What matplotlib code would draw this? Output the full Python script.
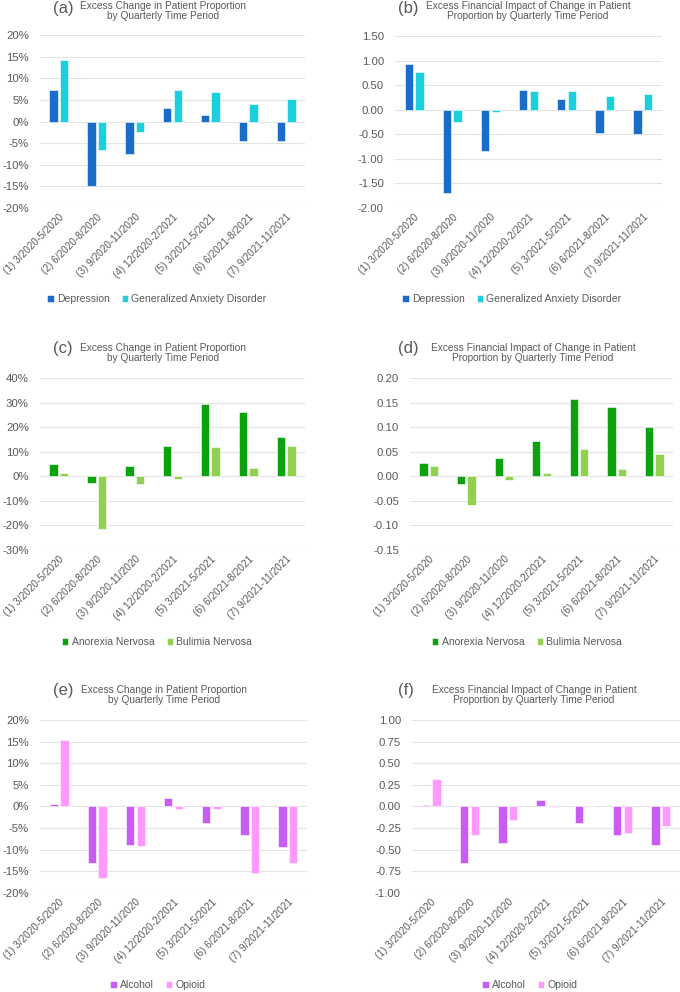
import numpy as np
import matplotlib
matplotlib.use("Agg")
import matplotlib.pyplot as plt
from matplotlib.ticker import FuncFormatter

plt.rcParams['font.family'] = ['Liberation Sans', 'DejaVu Sans']

periods = ['(1) 3/2020-5/2020', '(2) 6/2020-8/2020', '(3) 9/2020-11/2020',
           '(4) 12/2020-2/2021', '(5) 3/2021-5/2021', '(6) 6/2021-8/2021',
           '(7) 9/2021-11/2021']

# (a) excess change in patient proportion, %
dep_pct = [7.2, -15.0, -7.4, 3.2, 1.4, -4.6, -4.6]
gad_pct = [14.2, -6.7, -2.4, 7.3, 6.8, 4.1, 5.2]
# (b) excess financial impact
dep_fin = [0.93, -1.70, -0.85, 0.41, 0.21, -0.47, -0.50]
gad_fin = [0.76, -0.26, -0.05, 0.38, 0.39, 0.28, 0.32]
# (c)
ano_pct = [5.1, -2.7, 4.2, 12.3, 29.4, 26.0, 16.1]
bul_pct = [1.4, -21.4, -3.1, -1.3, 11.8, 3.3, 12.3]
# (d)
ano_fin = [0.027, -0.015, 0.037, 0.071, 0.157, 0.141, 0.101]
bul_fin = [0.020, -0.059, -0.007, 0.006, 0.056, 0.015, 0.045]
# (e)
alc_pct = [0.5, -13.0, -9.0, 1.9, -3.8, -6.6, -9.3]
opi_pct = [15.3, -16.6, -9.1, -0.6, -0.6, -15.3, -13.1]
# (f)
alc_fin = [0.02, -0.65, -0.42, 0.08, -0.19, -0.33, -0.44]
opi_fin = [0.32, -0.33, -0.16, -0.01, 0.0, -0.31, -0.23]

W, H = 680, 992
GRAY = '#595959'
fig = plt.figure(figsize=(W / 100, H / 100), dpi=100)


def fx(x):
    return x / W


def fy(y):
    return 1 - y / H


def panel(box, letter, title, title_xy, letter_xy, s1, s2, names, colors,
          ylim, step, fmt, legend_xy):
    x0, y0, x1, y1 = box
    ax = fig.add_axes([fx(x0), fy(y1), fx(x1) - fx(x0), (y1 - y0) / H])
    x = np.arange(len(periods))
    w = 0.22
    ax.bar(x - 0.14, s1, w, color=colors[0], edgecolor='white', linewidth=0.4,
           label=names[0], zorder=3)
    ax.bar(x + 0.14, s2, w, color=colors[1], edgecolor='white', linewidth=0.4,
           label=names[1], zorder=3)
    ax.set_xlim(-0.5, len(periods) - 0.5)
    ax.set_ylim(*ylim)
    ax.set_yticks(np.arange(ylim[0], ylim[1] + step / 2, step))
    ax.yaxis.set_major_formatter(FuncFormatter(fmt))
    ax.grid(axis='y', color='#e3e3e3', linewidth=0.8, zorder=0)
    for s in ax.spines.values():
        s.set_visible(False)
    ax.tick_params(axis='both', length=0, colors=GRAY, labelsize=8.2)
    ax.tick_params(axis='y', pad=8)
    ax.set_xticks(x)
    ax.set_xticklabels(periods, rotation=45, ha='right', rotation_mode='anchor',
                       fontsize=7.2, color=GRAY)
    ax.tick_params(axis='x', pad=3)
    fig.text(fx(letter_xy[0]), fy(letter_xy[1]), letter, fontsize=12,
             color=GRAY, ha='left', va='center')
    fig.text(fx(title_xy[0]), fy(title_xy[1]), title, fontsize=7.3,
             color=GRAY, ha='center', va='center', linespacing=1.05)
    fig.legend(handles=ax.get_legend_handles_labels()[0],
               labels=names, loc='center',
               bbox_to_anchor=(fx(legend_xy[0]), fy(legend_xy[1])),
               ncol=2, frameon=False, fontsize=7.5, handlelength=0.6,
               handleheight=0.6, handletextpad=0.3, columnspacing=1.2,
               labelcolor=GRAY)


def pct(v, p):
    return f'{v:.0f}%'


def dec(v, p):
    return f'{v:.2f}'


t1 = 'Excess Change in Patient Proportion\nby Quarterly Time Period'
t2 = 'Excess Financial Impact of Change in Patient\nProportion by Quarterly Time Period'

dep_cols = ['#1a6cc9', '#19d0dc']
eat_cols = ['#0da10d', '#92d050']
sub_cols = ['#c95cf5', '#ff99ff']

panel((40, 35, 305, 208), '(a)', t1, (163, 11), (53, 9), dep_pct, gad_pct,
      ['Depression', 'Generalized Anxiety Disorder'], dep_cols,
      (-20, 20), 5, pct, (157, 299))
panel((395, 36, 662, 208), '(b)', t2, (528, 11), (398, 9), dep_fin, gad_fin,
      ['Depression', 'Generalized Anxiety Disorder'], dep_cols,
      (-2.0, 1.5), 0.5, dec, (512, 299))
panel((40, 378, 305, 550), '(c)', t1, (163, 353), (53, 349), ano_pct, bul_pct,
      ['Anorexia Nervosa', 'Bulimia Nervosa'], eat_cols,
      (-30, 40), 10, pct, (157, 642))
panel((410, 378, 673, 550), '(d)', t2, (533, 353), (398, 349), ano_fin, bul_fin,
      ['Anorexia Nervosa', 'Bulimia Nervosa'], eat_cols,
      (-0.15, 0.20), 0.05, dec, (527, 642))
panel((40, 720, 307, 893), '(e)', t1, (164, 695), (53, 691), alc_pct, opi_pct,
      ['Alcohol', 'Opioid'], sub_cols,
      (-20, 20), 5, pct, (158, 985))
panel((412, 720, 680, 893), '(f)', t2, (534, 695), (398, 691), alc_fin, opi_fin,
      ['Alcohol', 'Opioid'], sub_cols,
      (-1.0, 1.0), 0.25, dec, (530, 985))

fig.savefig('out.png', dpi=100, facecolor='white')
